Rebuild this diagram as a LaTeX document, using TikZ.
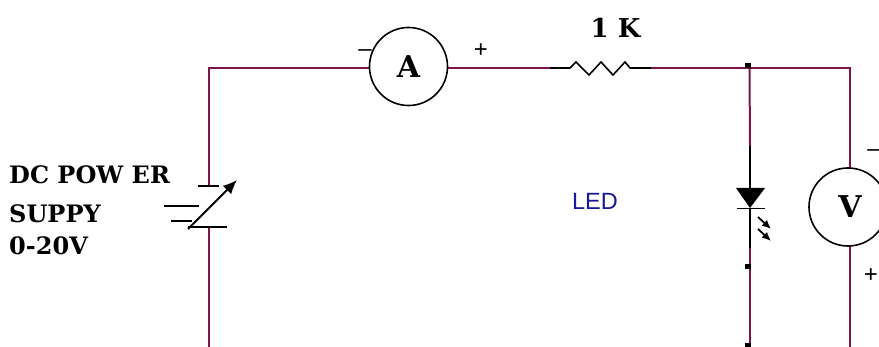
\documentclass[tikz,border=0pt]{standalone}
\usepackage{fontspec}
\setmainfont{DejaVu Serif}
\newfontfamily\ledfont{Liberation Sans}
\usetikzlibrary{arrows.meta}
\definecolor{wirec}{RGB}{125,20,75}
\definecolor{ledblue}{RGB}{25,25,150}
\tikzset{
  wire/.style={draw=wirec,line width=2pt},
  lead/.style={draw=black,line width=1.9pt},
  meter/.style={circle,draw=black,line width=1.6pt,fill=white,minimum size=78pt,inner sep=0pt,font=\bfseries\fontsize{30}{30}\selectfont},
  lab/.style={anchor=west,inner sep=0pt,font=\bfseries\fontsize{24}{24}\selectfont},
  sign/.style={inner sep=0pt,font=\ledfont\fontsize{24}{24}\selectfont},
  junction/.style={fill=black,minimum width=6pt,minimum height=5pt,inner sep=0pt},
  ray/.style={draw=black,line width=1.8pt,-{Latex[length=9pt,width=8pt]}}
}
\begin{document}
\begin{tikzpicture}[x=1pt,y=-1pt]
\useasboundingbox (0,0) rectangle (879,347);
\clip (0,0) rectangle (879,347);
\fill[white] (0,0) rectangle (879,347);
% corners and junction points
\coordinate (tl) at (209,68);
\coordinate (tr) at (850,68);
\coordinate (tm) at (749.5,68);
\coordinate (bl) at (209,347);
\coordinate (bm) at (750,347);
\coordinate (br) at (850,347);
\coordinate (bt) at (209,186);
\coordinate (bb) at (209,227);
\coordinate (rl) at (550,68);
\coordinate (rs) at (570,68);
\coordinate (re) at (630,68);
\coordinate (rr) at (651,68);
\coordinate (ledt) at (750,146);
\coordinate (leda) at (750,188);
\coordinate (ledk) at (750,208);
\coordinate (ledb) at (750,248);
% wires
\draw[wire] (bt) -- (tl) -- (rl);
\draw[wire] (rr) -- (tr) -- (br);
\draw[wire] (bb) -- (bl);
\draw[wire] (tm) -- (ledt);
\draw[wire] (ledb) -- (bm);
% resistor
\draw[lead,line width=1.6pt] (rl) -- (rs) -- (576,62) -- (589,75) -- (601,62) -- (613,75) -- (625,62) -- (re) -- (rr);
% LED
\draw[lead] (ledt) -- (leda);
\draw[lead] (ledk) -- (ledb);
\fill[black] (736,188) -- (765,188) -- (ledk) -- cycle;
\draw[lead] (737,208.5) -- (765,208.5);
\draw[ray] (758,217) -- (771,229);
\draw[ray] (758,229) -- (771,241);
% battery
\draw[lead] (198,186) -- (219,186);
\draw[lead] (164,206) -- (199,206);
\draw[lead] (171,221) -- (192,221);
\draw[lead] (188,227) -- (227,227);
\draw[lead,-{Latex[length=14pt,width=12pt]}] (188,229) -- (237,180);
% meters
\node[meter] (A) at (408.5,66.5) {\raisebox{-1pt}{A}};
\node[meter] (V) at (848,207) {\hspace*{4pt}\raisebox{-3.5pt}{V}};
% junction dots
\node[junction] (j1) at (748,66) {};
\node[junction] (j2) at (748,267) {};
\node[junction] (j3) at (748,346) {};
% labels
\node[inner sep=0pt,font=\bfseries\fontsize{26}{26}\selectfont] (rv) at (615.5,28) {1 K};
\node[lab] (t1) at (9,175) {DC POW ER};
\node[lab] (t2) at (9,214) {SUPPY};
\node[lab] (t3) at (9,246) {0-20V};
\node[inner sep=0pt,text=ledblue,font=\ledfont\fontsize{23.5}{23.5}\selectfont] (led) at (595,201) {LED};
\node[sign] (am) at (365,53) {–};
\node[sign] (ap) at (481,51) {+};
\node[sign] (vm) at (874,153) {–};
\node[sign] (vp) at (871,276) {+};
\end{tikzpicture}
\end{document}
